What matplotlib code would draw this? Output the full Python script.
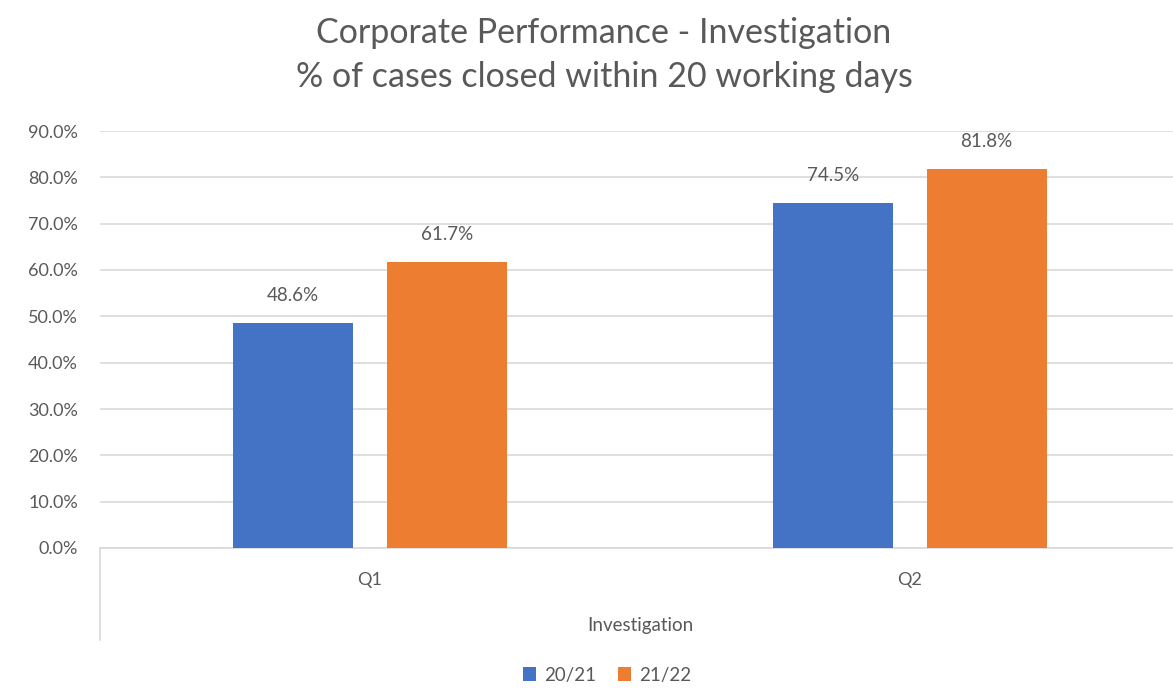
import matplotlib
matplotlib.use("Agg")
import matplotlib.pyplot as plt
import numpy as np

categories = ["Q1", "Q2"]
series_names = ["20/21", "21/22"]
values_2021 = [48.6, 74.5]
values_2122 = [61.7, 81.8]
y_ticks = [0, 10, 20, 30, 40, 50, 60, 70, 80, 90]
title_lines = ["Corporate Performance - Investigation", "% of cases closed within 20 working days"]
group_label = "Investigation"

FONT = "Lato"
TXT = "#595959"
GRID = "#d9d9d9"
colors = ["#4472C4", "#ED7D31"]

plt.rcParams['font.family'] = [FONT, 'DejaVu Sans']

W, H = 1173, 688
fig = plt.figure(figsize=(W / 100, H / 100), dpi=100)
ax = fig.add_axes([100 / W, 140 / H, 1080 / W, 417 / H])

x = np.arange(len(categories))
bw = 0.222
off = 0.142
b1 = ax.bar(x - off, values_2021, bw, color=colors[0], label=series_names[0], zorder=3)
b2 = ax.bar(x + off, values_2122, bw, color=colors[1], label=series_names[1], zorder=3)

for bars, vals in ((b1, values_2021), (b2, values_2122)):
    for rect, v in zip(bars, vals):
        ax.annotate(f"{v:.1f}%", (rect.get_x() + rect.get_width() / 2, v),
                    xytext=(0, 19), textcoords="offset pixels", ha="center", va="bottom",
                    fontsize=13.5, color=TXT)

ax.set_xlim(-0.5, 1.5)
ax.set_ylim(0, 90)
ax.set_yticks(y_ticks)
ax.set_yticklabels([f"{t:.1f}%" for t in y_ticks])
ax.set_xticks(x)
ax.set_xticklabels(categories)
ax.tick_params(axis="both", length=0, labelsize=13, colors=TXT)
ax.tick_params(axis="x", pad=17)
ax.tick_params(axis="y", pad=16)
ax.yaxis.grid(True, color=GRID, linewidth=1.2, zorder=0)
for s in ("left", "right", "top"):
    ax.spines[s].set_visible(False)
ax.spines["bottom"].set_color(GRID)
ax.spines["bottom"].set_linewidth(1.2)

# multi-level category separator
ax.plot([0, 0], [0, -92 / 417], transform=ax.transAxes, color=GRID, lw=1.2, clip_on=False)
ax.text(0.5, -77 / 417, group_label, transform=ax.transAxes, ha="center", va="center",
        fontsize=13.5, color=TXT)

fig.text(604 / W, 1 - 33 / H, title_lines[0], ha="center", va="center", fontsize=24.5, color=TXT)
fig.text(604 / W, 1 - 77 / H, title_lines[1], ha="center", va="center", fontsize=24.5, color=TXT)

leg = fig.legend(handles=[b1, b2], labels=series_names, loc="center",
                 bbox_to_anchor=(607 / W, 1 - 675 / H), ncol=2, frameon=False,
                 fontsize=13.5, handlelength=0.7, handleheight=0.7, handletextpad=0.4,
                 columnspacing=1.2)
for t in leg.get_texts():
    t.set_color(TXT)

fig.savefig("out.png", dpi=100)
